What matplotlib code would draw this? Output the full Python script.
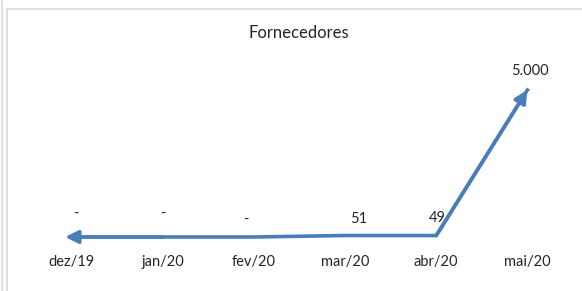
import matplotlib.pyplot as plt
from matplotlib.patches import Rectangle
from matplotlib.lines import Line2D

# data
meses = ['dez/19', 'jan/20', 'fev/20', 'mar/20', 'abr/20', 'mai/20']
fornecedores = [0, 0, 0, 51, 49, 5000]
rotulos = ['-', '-', '-', '51', '49', '5.000']

# label offsets in points (Excel placed them by hand)
offsets = [(3, 17), (0, 17), (-6, 12), (10, 12), (1, 13), (2, 14)]

azul = '#4a7ebb'
plt.rcParams['font.family'] = ['Lato', 'DejaVu Sans']

fig = plt.figure(figsize=(5.82, 2.91), dpi=100)
W, H = 582, 291

# frame lines around the chart
fig.add_artist(Line2D([2 / W, 2 / W], [0, 1], color='#d9d9d9', lw=1.2))
fig.add_artist(Rectangle((7 / W, -0.1), 1.0, 1 - 9 / H + 0.1,
                         fill=False, edgecolor='#d9d9d9', lw=1.2))

ax = fig.add_axes([26 / W, 1 - 237 / H, (573 - 26) / W, (237 - 90) / H])
x = list(range(len(meses)))

ax.plot(x, fornecedores, color=azul, lw=2.6, clip_on=False,
        solid_joinstyle='miter')
# arrow heads at both ends
ax.annotate('', xy=(x[-1], fornecedores[-1]), xytext=(x[-2], fornecedores[-2]),
            arrowprops=dict(arrowstyle='-|>', color=azul, lw=2.6,
                            mutation_scale=19, shrinkA=0, shrinkB=0))
ax.annotate('', xy=(x[0] - 0.07, fornecedores[0]), xytext=(x[1], fornecedores[1]),
            arrowprops=dict(arrowstyle='-|>', color=azul, lw=2.6,
                            mutation_scale=19, shrinkA=0, shrinkB=0))

for i in range(len(meses)):
    ax.annotate(rotulos[i], (x[i], fornecedores[i]), xytext=offsets[i],
                textcoords='offset points', ha='center', va='center',
                fontsize=10.5, color='#262626')

ax.set_xlim(-0.5, len(meses) - 0.5)
ax.set_ylim(0, 5000)
ax.set_xticks(x)
ax.set_xticklabels(meses, fontsize=10.5, color='#262626')
ax.set_yticks([])
ax.tick_params(axis='x', length=0, pad=13)
for s in ax.spines.values():
    s.set_visible(False)
ax.patch.set_alpha(0)

fig.text(299 / W, 1 - 33 / H, 'Fornecedores', ha='center', va='center',
         fontsize=12, color='#262626')

fig.savefig('out.png', dpi=100)
